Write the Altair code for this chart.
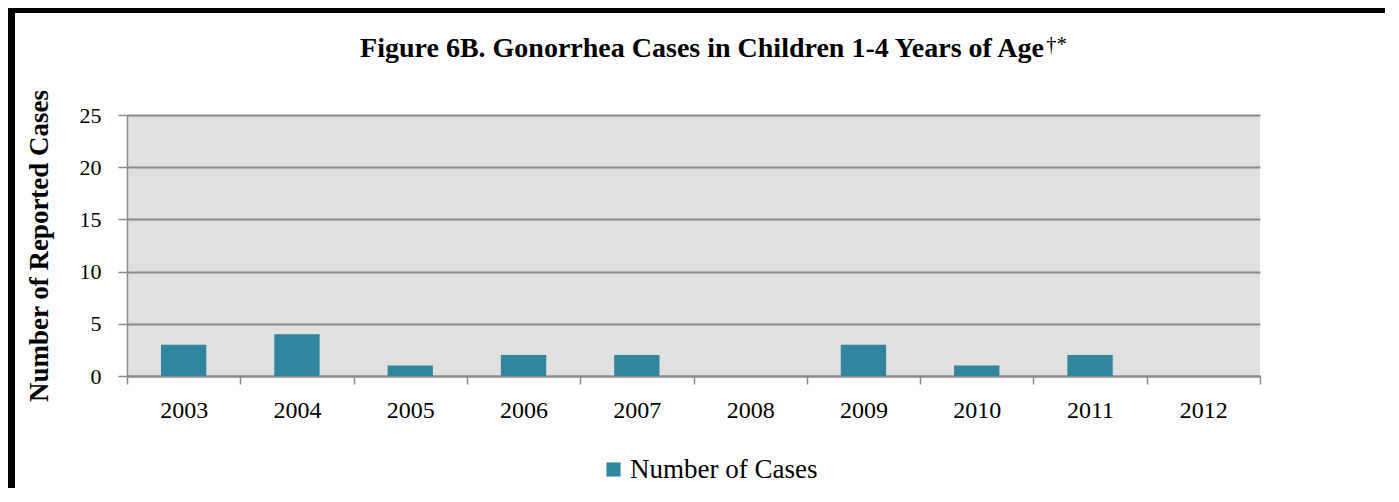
import altair as alt
import pandas as pd

years = ["2003", "2004", "2005", "2006", "2007", "2008", "2009", "2010", "2011", "2012"]
cases = [3, 4, 1, 2, 2, 0, 3, 1, 2, 0]
series = ["Number of Cases"] * len(years)
title_text = "Figure 6B. Gonorrhea Cases in Children 1-4 Years of Age"
title_sup = "\u2020*"

df = pd.DataFrame({"year": years, "cases": cases, "series": series})

FONT = "Liberation Serif"
W, H = 1133, 261
PL, PT = 119, 107
TOTAL_W, TOTAL_H = 1377, 480
PR = TOTAL_W - PL - W
PB = TOTAL_H - PT - H

bars = alt.Chart(df).mark_bar(width=alt.RelativeBandSize(0.4)).encode(
    x=alt.X("year:N", sort=years,
            scale=alt.Scale(paddingInner=0, paddingOuter=0),
            axis=alt.Axis(title=None, labelAngle=0, tickBand="extent", grid=False,
                          tickSize=8, tickColor="#8a8a8a", tickWidth=1.5,
                          domainColor="#8a8a8a", domainWidth=2,
                          labelFont=FONT, labelFontSize=24, labelColor="black",
                          labelPadding=14, labelBaseline="top")),
    y=alt.Y("cases:Q", scale=alt.Scale(domain=[0, 25]),
            axis=alt.Axis(title="Number of Reported Cases", values=[0, 5, 10, 15, 20, 25],
                          grid=True, gridColor="#8a8a8a", gridWidth=2,
                          tickSize=9, tickColor="#8a8a8a", tickWidth=1.5,
                          domainColor="#8a8a8a", domainWidth=1.5,
                          labelFont=FONT, labelFontSize=22, labelColor="black",
                          labelPadding=17,
                          titleFont=FONT, titleFontSize=27, titleFontWeight="bold",
                          titleColor="black", titleAngle=270, titleX=-80, titleY=H / 2,
                          titleAlign="center", titleBaseline="alphabetic")),
    color=alt.Color("series:N", scale=alt.Scale(range=["#31869e"]),
                    legend=alt.Legend(title=None, orient="none", legendX=473, legendY=341,
                                      symbolType="square", symbolSize=200,
                                      symbolStrokeWidth=0, symbolOpacity=1,
                                      labelFont=FONT, labelFontSize=27, labelColor="black",
                                      labelOffset=3, labelLimit=400)),
)

deco = pd.DataFrame({"a": [0]})
top_bar = alt.Chart(deco).mark_rule(color="black", strokeWidth=5).encode(
    x=alt.value(-PL), x2=alt.value(W + PR), y=alt.value(-PT + 2.5))
left_bar = alt.Chart(deco).mark_rule(color="black", strokeWidth=7).encode(
    x=alt.value(-PL + 3.5), y=alt.value(-PT), y2=alt.value(H + PB))
title = alt.Chart(deco).mark_text(font=FONT, fontSize=28, fontWeight="bold", color="black",
                                  align="right", baseline="alphabetic").encode(
    x=alt.value(917), y=alt.value(-58), text=alt.value(title_text))
sup = alt.Chart(deco).mark_text(font=FONT, fontSize=21, color="black",
                                align="left", baseline="alphabetic").encode(
    x=alt.value(919), y=alt.value(-64), text=alt.value(title_sup))

chart = alt.layer(bars, top_bar, left_bar, title, sup).properties(
    width=W, height=H,
    background="white",
    padding={"left": PL, "top": PT, "right": PR, "bottom": PB},
    autosize=alt.AutoSizeParams(type="none"),
).configure_view(fill="#e0e0e0", strokeWidth=0)

chart.save("out.html", embed_options={"renderer": "svg", "actions": False})
